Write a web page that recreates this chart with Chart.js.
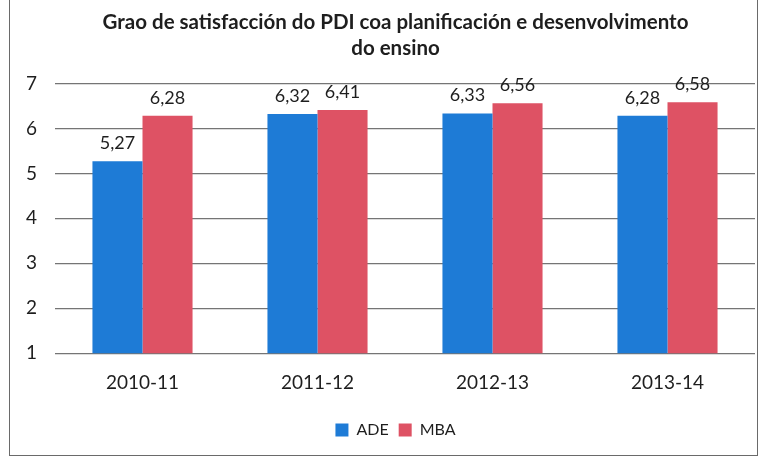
<!DOCTYPE html>
<html>
<head>
<meta charset="utf-8">
<script src="https://cdn.jsdelivr.net/npm/chart.js@4/dist/chart.umd.min.js"></script>
<style>
  html, body { margin: 0; padding: 0; background: #fff; }
  #wrap { position: relative; width: 763px; height: 460px; overflow: hidden; }
  #frame {
    position: absolute; left: 9px; top: -3px; width: 747px; height: 457px;
    border: 1px solid #6a6a6a; pointer-events: none;
  }
</style>
</head>
<body>
<div id="wrap">
  <canvas id="chart" width="763" height="460"></canvas>
  <div id="frame"></div>
</div>
<script>
// data
const years = ['2010-11', '2011-12', '2012-13', '2013-14'];
const adeValues = [5.27, 6.32, 6.33, 6.28];
const mbaValues = [6.28, 6.41, 6.56, 6.58];
const yTicks = [1, 2, 3, 4, 5, 6, 7];

const FONT = 'Lato, "Open Sans", sans-serif';
const TEXT = '#1e1e1e';

/**
 * Draw the value above each bar (comma decimals, as in the original)
 */
const valueLabels = {
  id: 'valueLabels',
  afterDatasetsDraw(chart) {
    const ctx = chart.ctx;
    ctx.save();
    ctx.font = '18px ' + FONT;
    ctx.fillStyle = TEXT;
    ctx.textAlign = 'center';
    ctx.textBaseline = 'middle';
    chart.data.datasets.forEach((ds, i) => {
      chart.getDatasetMeta(i).data.forEach((bar, j) => {
        const txt = ds.data[j].toFixed(2).replace('.', ',');
        ctx.fillText(txt, bar.x, bar.y - 18);
      });
    });
    ctx.restore();
  }
};

/**
 * Title and legend sit centred on the plot rather than the canvas
 */
const centreOnPlot = {
  id: 'centreOnPlot',
  afterLayout(chart) {
    [chart.titleBlock, chart.legend].forEach(box => {
      if (!box) return;
      box.left += 18;
      box.right += 18;
    });
  }
};

const ctx = document.getElementById('chart').getContext('2d');

new Chart(ctx, {
  type: 'bar',
  data: {
    labels: years,
    datasets: [
      {
        label: 'ADE',
        data: adeValues,
        backgroundColor: '#1e7bd6',
        categoryPercentage: 0.572,
        barPercentage: 1.0
      },
      {
        label: 'MBA',
        data: mbaValues,
        backgroundColor: '#de5264',
        categoryPercentage: 0.572,
        barPercentage: 1.0
      }
    ]
  },
  options: {
    responsive: false,
    animation: false,
    layout: { padding: { left: 0, right: 8, top: 0, bottom: 12 } },
    plugins: {
      title: {
        display: true,
        text: ['Grao de satisfacción do PDI coa planificación e desenvolvimento', 'do ensino'],
        color: TEXT,
        font: { family: FONT, size: 20.5, weight: 'bold', lineHeight: 1.28 },
        padding: { top: 9, bottom: 22 }
      },
      legend: {
        position: 'bottom',
        labels: {
          color: TEXT,
          font: { family: FONT, size: 16 },
          boxWidth: 13,
          boxHeight: 13,
          padding: 10
        }
      },
      tooltip: { enabled: false }
    },
    scales: {
      y: {
        min: 1,
        max: 7,
        afterFit: s => { s.width = 55; },
        afterBuildTicks: s => { s.ticks = yTicks.map(v => ({ value: v })); },
        ticks: { color: TEXT, font: { family: FONT, size: 19 }, padding: 18 },
        grid: { color: '#757575', lineWidth: 1.3, drawTicks: false },
        border: { display: false }
      },
      x: {
        ticks: { color: TEXT, font: { family: FONT, size: 19 }, padding: 18 },
        grid: { display: false, drawTicks: false },
        border: { display: false }
      }
    }
  },
  plugins: [valueLabels, centreOnPlot]
});
</script>
</body>
</html>
